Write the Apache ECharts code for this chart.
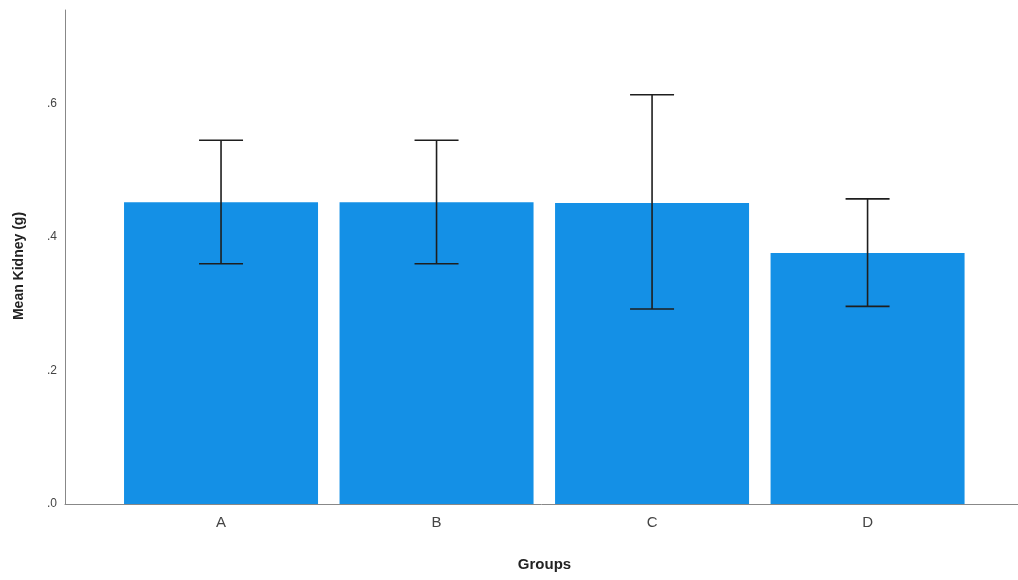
<!DOCTYPE html>
<html>
<head>
<meta charset="utf-8">
<script src="https://cdn.jsdelivr.net/npm/echarts@6/dist/echarts.min.js"></script>
<style>html,body{margin:0;padding:0;background:#fff}#c{width:1018px;height:580px}</style>
</head>
<body>
<div id="c"></div>
<script>
var categories = ['A', 'B', 'C', 'D'];
var means = [0.452, 0.452, 0.451, 0.376];
var errLow = [0.360, 0.360, 0.292, 0.296];
var errHigh = [0.545, 0.545, 0.613, 0.457];
var yTicks = [0, 0.2, 0.4, 0.6];

var barData = categories.map(function (c, i) { return [i + 1, means[i]]; });
var errData = categories.map(function (c, i) { return [i + 1, errLow[i], errHigh[i]]; });

var chart = echarts.init(document.getElementById('c'), null, {renderer: 'canvas'});
chart.setOption({
  animation: false,
  grid: {left: 65, right: 0, top: 10, bottom: 76},
  graphic: [{
    type: 'text',
    x: 19, y: 266,
    rotation: Math.PI / 2,
    style: {
      text: 'Mean Kidney (g)',
      fill: '#222', fontSize: 14, fontWeight: 'bold', fontFamily: 'Liberation Sans',
      textAlign: 'center', textVerticalAlign: 'middle'
    }
  }],
  xAxis: {
    type: 'value',
    min: 0.276,
    max: 4.698,
    splitLine: {show: false},
    axisLine: {show: true, lineStyle: {color: '#888', width: 1}},
    axisTick: {show: false},
    axisLabel: {
      customValues: [1, 2, 3, 4],
      formatter: function (v) { return categories[Math.round(v) - 1] || ''; },
      color: '#444', fontSize: 15, fontFamily: 'Liberation Sans', margin: 11
    },
    name: 'Groups',
    nameLocation: 'middle',
    nameGap: 53,
    nameTextStyle: {color: '#222', fontSize: 15, fontWeight: 'bold', fontFamily: 'Liberation Sans', padding: [0, 0, 0, 6]}
  },
  yAxis: {
    type: 'value',
    min: 0,
    max: 0.74,
    interval: 0.2,
    splitLine: {show: false},
    axisLine: {show: true, lineStyle: {color: '#888', width: 1}},
    axisTick: {show: false},
    axisLabel: {
      showMaxLabel: false,
      formatter: function (v) {
        for (var i = 0; i < yTicks.length; i++) {
          if (Math.abs(v - yTicks[i]) < 1e-6) return '.' + Math.round(v * 10);
        }
        return '';
      },
      color: '#444', fontSize: 12, fontFamily: 'Liberation Sans', margin: 8
    }
  },
  series: [
    {
      type: 'bar',
      data: barData,
      barWidth: 194,
      itemStyle: {color: '#1490e6'}
    },
    {
      type: 'custom',
      data: errData,
      z: 10,
      renderItem: function (params, api) {
        var x = api.value(0);
        var lo = api.coord([x, api.value(1)]);
        var hi = api.coord([x, api.value(2)]);
        var hw = 22;
        var st = {stroke: '#1e1e1e', lineWidth: 1.6};
        return {
          type: 'group',
          children: [
            {type: 'line', shape: {x1: hi[0], y1: hi[1], x2: lo[0], y2: lo[1]}, style: st},
            {type: 'line', shape: {x1: hi[0] - hw, y1: hi[1], x2: hi[0] + hw, y2: hi[1]}, style: st},
            {type: 'line', shape: {x1: lo[0] - hw, y1: lo[1], x2: lo[0] + hw, y2: lo[1]}, style: st}
          ]
        };
      }
    }
  ]
});
</script>
</body>
</html>
